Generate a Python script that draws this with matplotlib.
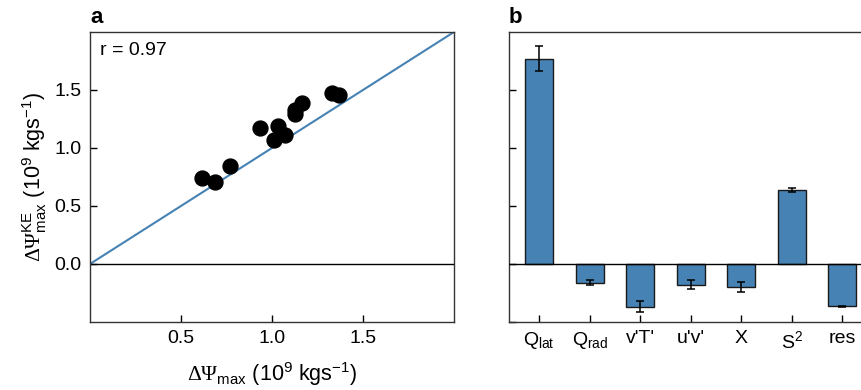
import numpy as np
import matplotlib
matplotlib.use('Agg')
import matplotlib.pyplot as plt

plt.rcParams['font.family'] = ['Liberation Sans', 'DejaVu Sans']
plt.rcParams['mathtext.fontset'] = 'custom'
plt.rcParams['mathtext.rm'] = 'Liberation Sans'
plt.rcParams['mathtext.it'] = 'Liberation Sans:italic'
plt.rcParams['mathtext.sf'] = 'Liberation Serif'

# panel a: scatter of the two estimates
psi_max = [0.614, 0.687, 0.769, 0.934, 1.011, 1.035, 1.071, 1.126, 1.128, 1.167, 1.331, 1.368]
psi_ke = [0.737, 0.703, 0.843, 1.174, 1.067, 1.188, 1.116, 1.289, 1.330, 1.390, 1.476, 1.455]
r_value = 0.97

# panel b: decomposition bars
terms = [r'Q$_{\rm lat}$', r'Q$_{\rm rad}$', "v'T'", "u'v'", 'X', r'S$^2$', 'res']
contrib = [1.77, -0.16, -0.37, -0.177, -0.20, 0.636, -0.366]
contrib_err = [0.11, 0.025, 0.047, 0.036, 0.042, 0.016, 0.005]

blue = '#4682b4'
fs = 14
lab_fs = 15.5

fig = plt.figure(figsize=(8.61, 3.9), dpi=100)
ax1 = fig.add_axes([0.1045, 0.1744, 0.4228, 0.7436])
ax2 = fig.add_axes([0.5912, 0.1744, 0.4223, 0.7436])

# left panel
ax1.plot([0, 2], [0, 2], color=blue, lw=1.5, zorder=1)
ax1.axhline(0, color='black', lw=1.0, zorder=1)
ax1.scatter(psi_max, psi_ke, s=115, color='black', zorder=3)
ax1.set_xlim(0, 2)
ax1.set_ylim(-0.5, 2)
ax1.set_xticks([0.5, 1.0, 1.5])
ax1.set_yticks([0.0, 0.5, 1.0, 1.5])
ax1.set_xticklabels(['0.5', '1.0', '1.5'])
ax1.set_yticklabels(['0.0', '0.5', '1.0', '1.5'])
ax1.text(0.027, 0.965, 'r = %.2f' % r_value, transform=ax1.transAxes,
         ha='left', va='top', fontsize=fs)
ax1.set_xlabel(r'$\mathsf{\Delta\Psi}_{\rm max}$ (10$^9$ kgs$^{-1}$)', fontsize=lab_fs, labelpad=9)
ax1.set_ylabel(r'$\mathsf{\Delta\Psi}^{\rm KE}_{\rm max}$ (10$^9$ kgs$^{-1}$)', fontsize=lab_fs, labelpad=4)
ax1.text(0.0, 1.012, 'a', transform=ax1.transAxes, fontsize=16, fontweight='bold',
         ha='left', va='bottom')

# right panel
x = np.arange(len(terms))
ax2.bar(x, contrib, width=0.56, color=blue, edgecolor='#1a1a1a', lw=1.0, zorder=2)
ax2.errorbar(x, contrib, yerr=contrib_err, fmt='none', ecolor='black',
             elinewidth=1.1, capsize=3, capthick=1.1, zorder=3)
ax2.axhline(0, color='black', lw=1.0, zorder=4)
ax2.set_xlim(-0.6, 6.6)
ax2.set_ylim(-0.5, 2)
ax2.set_xticks(x)
ax2.set_xticklabels(terms, fontsize=fs)
ax2.set_yticks([-0.5, 0.0, 0.5, 1.0, 1.5])
ax2.set_yticklabels([])
ax2.text(0.0, 1.012, 'b', transform=ax2.transAxes, fontsize=16, fontweight='bold',
         ha='left', va='bottom')

for ax in (ax1, ax2):
    ax.tick_params(direction='in', length=5, width=1, labelsize=fs, pad=6)
    for sp in ax.spines.values():
        sp.set_linewidth(1.0)
        sp.set_color('#333333')

fig.savefig('out.png', dpi=100)
